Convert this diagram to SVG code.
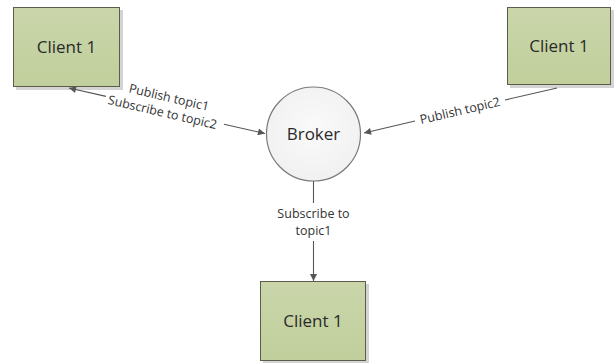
<svg xmlns="http://www.w3.org/2000/svg" width="614" height="363" viewBox="0 0 614 363">
  <style>
    .client { fill: url(#clientFill); stroke: #5b5d4a; stroke-width: 1; }
    .shadow { fill: #d4d4d4; }
    .title { font-family: "Open Sans", "Liberation Sans", sans-serif; font-size: 17px; fill: #2a2a2a; text-anchor: middle; }
    .lbl { font-family: "Open Sans", "Liberation Sans", sans-serif; font-size: 12.5px; fill: #333; text-anchor: middle; }
    .conn { stroke: #555; stroke-width: 1.1; fill: none; }
  </style>
  <defs>
    <linearGradient id="clientFill" x1="0" y1="0" x2="0" y2="1">
      <stop offset="0" stop-color="#cad6aa"/>
      <stop offset="1" stop-color="#c0cf9c"/>
    </linearGradient>
    <radialGradient id="brokerFill" cx="0.5" cy="0.45" r="0.6">
      <stop offset="0" stop-color="#fafafa"/>
      <stop offset="1" stop-color="#f0f0f0"/>
    </radialGradient>
    <marker id="arrow" viewBox="0 0 10 10" refX="10" refY="5" markerWidth="9" markerHeight="7" orient="auto-start-reverse" markerUnits="userSpaceOnUse">
      <path d="M0,0 L10,5 L0,10 z" fill="#555"/>
    </marker>
  </defs>
  <rect width="614" height="363" fill="#fff"/>

  <g id="client-top-left">
    <rect class="shadow" x="16" y="10" width="107" height="80"/>
    <rect class="client" x="13.5" y="7.5" width="106" height="79"/>
    <text class="title" x="66.5" y="53">Client 1</text>
  </g>

  <g id="client-top-right">
    <rect class="shadow" x="510" y="10" width="104" height="78"/>
    <rect class="client" x="507.5" y="7.5" width="103" height="77"/>
    <text class="title" x="559" y="52">Client 1</text>
  </g>

  <g id="broker">
    <circle cx="313.5" cy="134" r="47" fill="url(#brokerFill)" stroke="#7a7a7a" stroke-width="1.2"/>
    <text class="title" x="313.5" y="140" font-size="18.5">Broker</text>
  </g>

  <g id="client-bottom">
    <rect class="shadow" x="263" y="284" width="106" height="79"/>
    <rect class="client" x="260.5" y="281.5" width="105" height="79"/>
    <text class="title" x="313" y="327">Client 1</text>
  </g>

  <g id="connectors">
    <!-- client top-left <-> broker -->
    <line class="conn" x1="106" y1="96.4" x2="69" y2="88" marker-end="url(#arrow)"/>
    <line class="conn" x1="224" y1="124.2" x2="265" y2="133.5" marker-end="url(#arrow)"/>
    <g transform="rotate(13.1 165 106)">
      <text class="lbl" x="167" y="101">Publish topic1</text>
      <text class="lbl" x="164" y="117">Subscribe to topic2</text>
    </g>
    <!-- client top-right -> broker -->
    <line class="conn" x1="557" y1="88" x2="505" y2="100"/>
    <line class="conn" x1="415" y1="121" x2="364" y2="133" marker-end="url(#arrow)"/>
    <text class="lbl" x="460" y="115" transform="rotate(-13 460 111)">Publish topic2</text>
    <!-- broker -> client bottom -->
    <line class="conn" x1="313.5" y1="181" x2="313.5" y2="203"/>
    <line class="conn" x1="313.5" y1="241" x2="313.5" y2="281" marker-end="url(#arrow)"/>
    <text class="lbl" x="313.5" y="218">Subscribe to</text>
    <text class="lbl" x="313.5" y="235">topic1</text>
  </g>
</svg>
